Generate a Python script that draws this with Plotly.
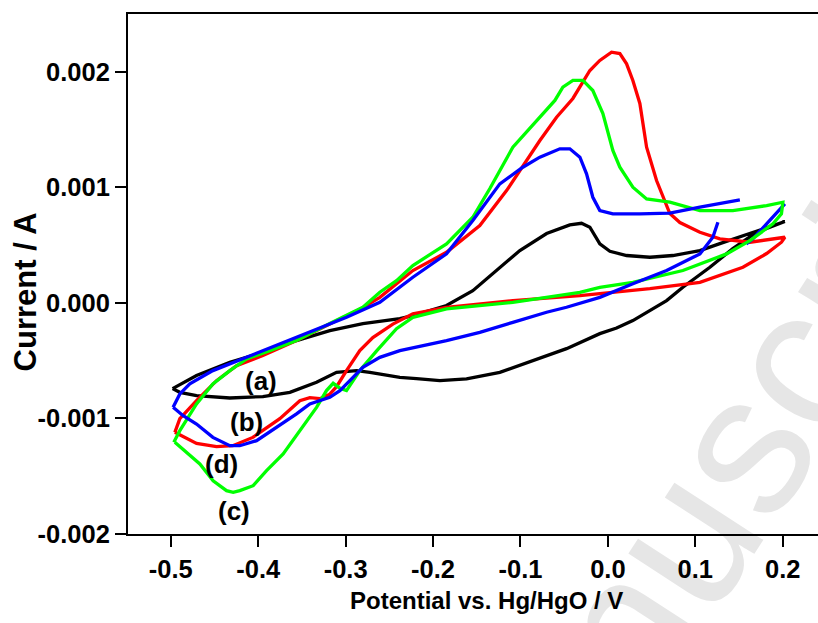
import plotly.graph_objects as go

# ---- data (Potential / V, Current / mA -> converted to A) ----
a_x = [-0.498, -0.4706, -0.4325, -0.3947, -0.3562, -0.3181, -0.2803, -0.238, -0.2231, -0.1846,
       -0.1545, -0.1273, -0.1007, -0.0701, -0.0435, -0.0301, -0.0206, -0.0092, 0.0023, 0.0214,
       0.0481, 0.0744, 0.1053, 0.1281, 0.1625, 0.2025,
       0.1701, 0.143, 0.1167, 0.0858, 0.0672, 0.0481, 0.0286, 0.010, -0.0092, -0.0473,
       -0.0858, -0.1236, -0.1617, -0.1922, -0.2189, -0.238, -0.2723, -0.2875, -0.3104, -0.3333,
       -0.3638, -0.3947, -0.4325, -0.4706, -0.4897, -0.498]
a_y = [-0.742, -0.629, -0.514, -0.428, -0.326, -0.240, -0.179, -0.136, -0.110, -0.023,
       0.106, 0.280, 0.453, 0.600, 0.675, 0.689, 0.655, 0.510, 0.447, 0.410,
       0.395, 0.410, 0.453, 0.513, 0.600, 0.704,
       0.611, 0.470, 0.308, 0.135, 0.020, -0.067, -0.153, -0.218, -0.266, -0.396,
       -0.500, -0.601, -0.658, -0.673, -0.655, -0.644, -0.601, -0.586, -0.601, -0.687,
       -0.774, -0.811, -0.823, -0.803, -0.774, -0.742]

d_x = [-0.4954, -0.4897, -0.4706, -0.4477, -0.4248, -0.3947, -0.3562, -0.3181, -0.2803, -0.2609,
       -0.2231, -0.1846, -0.1465, -0.1159, -0.0778, -0.0587, -0.040, -0.0206, -0.0092, 0.0042,
       0.0137, 0.0214, 0.0286, 0.0366, 0.0443, 0.0557, 0.0709, 0.0824, 0.1053, 0.1281,
       0.1625, 0.2025,
       0.1986, 0.1816, 0.1545, 0.1053, 0.0481, -0.0092, -0.032, -0.1087, -0.1846, -0.2231,
       -0.238, -0.246, -0.2689, -0.2838, -0.299, -0.3104, -0.3181, -0.3295, -0.341, -0.3524,
       -0.3753, -0.4062, -0.4291, -0.4477, -0.4706, -0.4935, -0.4954]
d_y = [-1.120, -1.002, -0.846, -0.673, -0.543, -0.456, -0.326, -0.179, -0.041, 0.048,
       0.280, 0.438, 0.669, 0.972, 1.405, 1.607, 1.769, 2.011, 2.098, 2.170,
       2.158, 2.069, 1.925, 1.726, 1.347, 1.059, 0.773, 0.695, 0.611, 0.554,
       0.525, 0.568,
       0.525, 0.427, 0.308, 0.178, 0.124, 0.081, 0.063, 0.020, -0.038, -0.095,
       -0.153, -0.184, -0.300, -0.413, -0.586, -0.725, -0.790, -0.829, -0.820, -0.846,
       -1.002, -1.164, -1.236, -1.244, -1.216, -1.134, -1.120]

c_x = [-0.4966, -0.4897, -0.4706, -0.4519, -0.4325, -0.4134, -0.3867, -0.3562, -0.3181, -0.2803,
       -0.2609, -0.2418, -0.2231, -0.1846, -0.1545, -0.135, -0.1087, -0.0778, -0.0606, -0.0515,
       -0.040, -0.0286, -0.0172, -0.0057, 0.0057, 0.0137, 0.0286, 0.0443, 0.0709, 0.1053,
       0.143, 0.1816, 0.2002,
       0.1986, 0.1888, 0.1625, 0.1358, 0.0858, 0.0286, -0.0092, -0.032, -0.1087, -0.1846,
       -0.2231, -0.2418, -0.2643, -0.2838, -0.299, -0.3066, -0.3143, -0.3219, -0.3333, -0.3524,
       -0.3715, -0.3905, -0.4058, -0.4211, -0.4287, -0.4363, -0.4516, -0.4668, -0.482, -0.4954]
c_y = [-1.207, -1.106, -0.874, -0.701, -0.586, -0.485, -0.413, -0.326, -0.179, -0.038,
       0.092, 0.193, 0.323, 0.511, 0.741, 0.990, 1.347, 1.607, 1.752, 1.867,
       1.925, 1.925, 1.838, 1.639, 1.319, 1.174, 1.001, 0.900, 0.871, 0.799,
       0.799, 0.842, 0.871,
       0.771, 0.684, 0.539, 0.424, 0.280, 0.178, 0.135, 0.092, 0.005, -0.052,
       -0.125, -0.223, -0.413, -0.586, -0.759, -0.738, -0.696, -0.759, -0.904, -1.106,
       -1.307, -1.452, -1.582, -1.625, -1.640, -1.625, -1.539, -1.394, -1.294, -1.207]

b_up_x = [-0.4974, -0.4897, -0.4783, -0.4519, -0.4134, -0.3753, -0.3375, -0.299, -0.2609, -0.2231,
          -0.1846, -0.1545, -0.1236, -0.0973, -0.0778, -0.0549, -0.0435, -0.032, -0.0244, -0.0172,
          -0.0092, 0.0057, 0.0366, 0.0709, 0.1053, 0.151]
b_up_y = [-0.904, -0.788, -0.701, -0.586, -0.471, -0.355, -0.240, -0.125, 0.005, 0.222,
          0.424, 0.713, 1.030, 1.174, 1.261, 1.333, 1.333, 1.261, 1.117, 0.914,
          0.799, 0.771, 0.771, 0.776, 0.828, 0.892]
b_dn_x = [0.1259, 0.1201, 0.1053, 0.0672, 0.0286, -0.0092, -0.0473, -0.0701, -0.1087, -0.1465,
          -0.1846, -0.2231, -0.238, -0.2609, -0.2803, -0.2952, -0.3066, -0.3181, -0.3295, -0.341,
          -0.3562, -0.3791, -0.4019, -0.4211, -0.4325, -0.4519, -0.4706, -0.4859, -0.4974]
b_dn_y = [0.698, 0.568, 0.424, 0.280, 0.165, 0.048, -0.038, -0.081, -0.168, -0.255,
          -0.326, -0.384, -0.413, -0.471, -0.558, -0.673, -0.759, -0.817, -0.846, -0.874,
          -0.961, -1.077, -1.192, -1.236, -1.236, -1.164, -1.048, -0.976, -0.904]
b_end_x = [0.1584, 0.1659, 0.1816, 0.2025]
b_end_y = [0.511, 0.554, 0.684, 0.857]

x_ticks = [-0.5, -0.4, -0.3, -0.2, -0.1, 0.0, 0.1, 0.2]
x_ticktext = ["-0.5", "-0.4", "-0.3", "-0.2", "-0.1", "0.0", "0.1", "0.2"]
y_ticks = [-0.002, -0.001, 0.0, 0.001, 0.002]
y_ticktext = ["-0.002", "-0.001", "0.000", "0.001", "0.002"]

labels = ["(a)", "(b)", "(d)", "(c)"]
label_x = [-0.397, -0.414, -0.442, -0.428]
label_y = [-0.000673, -0.001034, -0.001391, -0.001804]

mA = lambda v: [u * 0.001 for u in v]

FONT = "Liberation Sans, Arial, sans-serif"
fig = go.Figure()
LW = 3.3
fig.add_trace(go.Scatter(x=a_x, y=mA(a_y), mode="lines", line=dict(color="#000000", width=LW)))
fig.add_trace(go.Scatter(x=d_x, y=mA(d_y), mode="lines", line=dict(color="#ff0000", width=LW)))
fig.add_trace(go.Scatter(x=b_end_x, y=mA(b_end_y), mode="lines", line=dict(color="#0000ff", width=LW)))
fig.add_trace(go.Scatter(x=c_x, y=mA(c_y), mode="lines", line=dict(color="#00ff00", width=LW)))
fig.add_trace(go.Scatter(x=b_dn_x, y=mA(b_dn_y), mode="lines", line=dict(color="#0000ff", width=LW)))
fig.add_trace(go.Scatter(x=b_up_x, y=mA(b_up_y), mode="lines", line=dict(color="#0000ff", width=LW)))

# watermark: faint text drawn underneath the axes and curves (label of an invisible line)
fig.add_shape(type="line", xref="paper", yref="paper", layer="below",
              x0=0.7755, y0=0.0043, x1=0.8545, y1=0.1657,
              line=dict(width=0, color="rgba(0,0,0,0)"),
              label=dict(text="Manuscript", textposition="middle", textangle=-57,
                         xanchor="center", yanchor="middle", padding=0,
                         font=dict(family=FONT, size=200, color="#e6e6e6")))

for t, lx, ly in zip(labels, label_x, label_y):
    fig.add_annotation(x=lx, y=ly, text=t, showarrow=False, xanchor="center", yanchor="middle",
                       font=dict(family=FONT, size=26, color="black", weight="bold"))

fig.add_annotation(xref="paper", yref="paper", x=-0.149, y=0.465, text="Current / A", showarrow=False,
                   textangle=-90, xanchor="center", yanchor="middle",
                   font=dict(family=FONT, size=31, color="black", weight="bold"))
fig.add_annotation(xref="paper", yref="paper", x=0.519, y=-0.127, text="Potential vs. Hg/HgO / V",
                   showarrow=False, xanchor="center", yanchor="middle",
                   font=dict(family=FONT, size=24, color="black", weight="bold"))

axis_common = dict(showline=True, linecolor="black", linewidth=2, ticks="outside", ticklen=11,
                   tickwidth=2, tickcolor="black", showgrid=False, zeroline=False, automargin=False,
                   tickfont=dict(family=FONT, size=25.5, color="black", weight="bold"))
fig.update_xaxes(range=[-0.549, 0.2404], tickvals=x_ticks, ticktext=x_ticktext, mirror=True, **axis_common)
fig.update_yaxes(range=[-0.002, 0.0025], tickvals=y_ticks, ticktext=y_ticktext, mirror=False, **axis_common)

fig.update_layout(width=818, height=623, margin=dict(l=128, r=0, t=14, b=89),
                  plot_bgcolor="rgba(0,0,0,0)", paper_bgcolor="white", showlegend=False)
# remove the page's default body margin / scrollbars so the figure fills the window exactly
fig.write_html("out.html", config={"displayModeBar": False},
               post_script="document.body.style.margin='0';document.body.style.overflow='hidden';"
                           "document.documentElement.style.overflow='hidden';")
